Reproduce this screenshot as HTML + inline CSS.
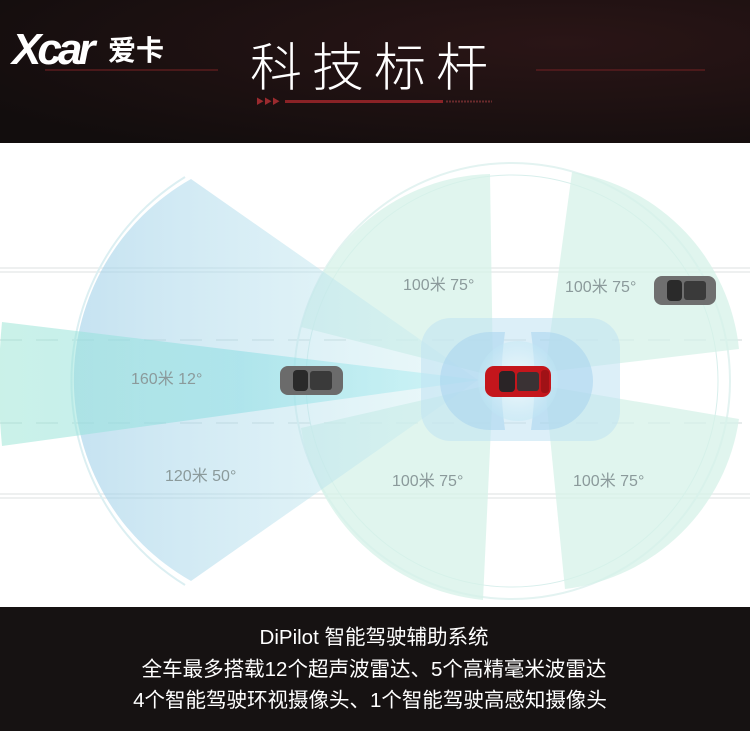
<!DOCTYPE html>
<html><head><meta charset="utf-8"><style>
html,body{margin:0;padding:0;width:750px;height:731px;overflow:hidden;background:#fff}
svg{display:block}
</style></head><body>
<svg width="750" height="731" viewBox="0 0 750 731" xmlns="http://www.w3.org/2000/svg" font-family="Liberation Sans, Noto Sans CJK SC, sans-serif">
<defs>
<radialGradient id="hdr" cx="0.75" cy="0.3" r="0.9">
<stop offset="0" stop-color="#2a1516"/><stop offset="1" stop-color="#120d0d"/></radialGradient>
<linearGradient id="big" x1="0" x2="1" y1="0" y2="0">
<stop offset="0" stop-color="#9fcfe8" stop-opacity="0.6"/><stop offset="1" stop-color="#c8eef0" stop-opacity="0.35"/></linearGradient>
<linearGradient id="nar" x1="0" x2="1">
<stop offset="0" stop-color="#9fe6d6" stop-opacity="0.55"/><stop offset="0.5" stop-color="#86dce2" stop-opacity="0.5"/><stop offset="1" stop-color="#c0f2f6" stop-opacity="0.6"/></linearGradient>
<radialGradient id="glow" cx="0.5" cy="0.5" r="0.5">
<stop offset="0" stop-color="#ffffff"/><stop offset="1" stop-color="#bfe6f4" stop-opacity="0.6"/></radialGradient>
</defs>
<rect x="0" y="0" width="750" height="143" fill="url(#hdr)"/>
<!-- logo -->
<text x="12" y="64" font-size="44" font-weight="bold" font-style="italic" fill="#fff" letter-spacing="-4">Xcar</text>
<text x="108" y="60" font-size="28" font-weight="bold" fill="#fff" font-family="Noto Sans CJK SC, sans-serif">爱卡</text>
<line x1="45" y1="70" x2="218" y2="70" stroke="#5a1c1e" stroke-width="1.5"/>
<line x1="536" y1="70" x2="705" y2="70" stroke="#5a1c1e" stroke-width="1.5"/>
<text x="374" y="86" font-size="52" fill="#fff" text-anchor="middle" font-weight="300" letter-spacing="10" font-family="Noto Sans CJK SC, sans-serif">科技标杆</text>
<text x="256" y="104" font-size="8" fill="#9a2a2e">▶▶▶</text>
<rect x="285" y="100" width="158" height="3" fill="#8a2226"/>
<line x1="446" y1="101.5" x2="492" y2="101.5" stroke="#6a2a2c" stroke-width="2" stroke-dasharray="2 1"/>

<!-- diagram -->
<rect x="0" y="143" width="750" height="465" fill="#fff"/>
<line x1="0" y1="268" x2="750" y2="268" stroke="#e8ecec" stroke-width="1.5"/>
<line x1="0" y1="272" x2="750" y2="272" stroke="#e8ecec" stroke-width="1.5"/>
<line x1="0" y1="494" x2="750" y2="494" stroke="#e8ecec" stroke-width="1.5"/>
<line x1="0" y1="498" x2="750" y2="498" stroke="#e8ecec" stroke-width="1.5"/>
<line x1="0" y1="340" x2="750" y2="340" stroke="#dfe5e5" stroke-width="1.5" stroke-dasharray="22 14"/>
<line x1="0" y1="423" x2="750" y2="423" stroke="#dfe5e5" stroke-width="1.5" stroke-dasharray="22 14"/>

<circle cx="512" cy="381" r="206" fill="none" stroke="#d8efec" stroke-width="1"/>
<circle cx="512" cy="381" r="218" fill="none" stroke="#e3f3f1" stroke-width="2"/>
<path d="M185,177 A240,240 0 0 0 185,585" fill="none" stroke="#dceff2" stroke-width="2"/>

<!-- 100m wedges -->
<path d="M493,376 L490,174 A200,200 0 0 0 301,327 Z" fill="#d6f1e8" opacity="0.75"/>
<path d="M493,384 L301,428 A205,205 0 0 0 483,600 Z" fill="#d6f1e8" opacity="0.75"/>
<path d="M545,372 L572,172 A200,200 0 0 1 739,349 Z" fill="#d6f1e8" opacity="0.75"/>
<path d="M545,386 L739,419 A200,200 0 0 1 565,589 Z" fill="#d6f1e8" opacity="0.75"/>
<!-- 120m 50 -->
<path d="M478,380 L191,179 A231,231 0 0 0 191,581 Z" fill="url(#big)"/>
<!-- 160m 12 -->
<path d="M480,380 L2,322 Q-4,384 2,446 Z" fill="url(#nar)"/>

<!-- near-field -->
<rect x="421" y="318" width="199" height="123" rx="30" fill="#bfe2f2" opacity="0.55"/>
<path d="M505,332 L490,332 A50,49 0 0 0 490,430 L505,430 Q498,381 505,332 Z" fill="#a8d4ee" opacity="0.55"/>
<path d="M531,332 L545,332 A48,49 0 0 1 545,430 L531,430 Q538,381 531,332 Z" fill="#a8d4ee" opacity="0.55"/>
<ellipse cx="518" cy="381" rx="40" ry="40" fill="url(#glow)" opacity="0.7"/>

<!-- cars -->
<g transform="translate(485,366)">
<rect x="0" y="0" width="66" height="31" rx="9" fill="#c4161c"/>
<rect x="14" y="5" width="16" height="21" rx="4" fill="#2a2426"/>
<rect x="32" y="6" width="22" height="19" rx="3" fill="#3a3234"/>
<rect x="56" y="4" width="8" height="23" rx="3" fill="#a01216"/>
</g>
<g transform="translate(280,366)">
<rect x="0" y="0" width="63" height="29" rx="8" fill="#6b6b6b"/>
<rect x="13" y="4" width="15" height="21" rx="4" fill="#2a2a2a"/>
<rect x="30" y="5" width="22" height="19" rx="3" fill="#3a3a3a"/>
</g>
<g transform="translate(654,276)">
<rect x="0" y="0" width="62" height="29" rx="8" fill="#6f6f6f"/>
<rect x="13" y="4" width="15" height="21" rx="4" fill="#2a2a2a"/>
<rect x="30" y="5" width="22" height="19" rx="3" fill="#3a3a3a"/>
</g>

<g font-size="16" fill="#8b9a9b">
<text x="131" y="384">160米 12°</text>
<text x="165" y="481">120米 50°</text>
<text x="403" y="290">100米 75°</text>
<text x="565" y="292">100米 75°</text>
<text x="392" y="486">100米 75°</text>
<text x="573" y="486">100米 75°</text>
</g>

<!-- bottom -->
<rect x="0" y="607" width="750" height="124" fill="#161212"/>
<g fill="#fff" text-anchor="middle" font-size="20.5">
<text x="374" y="644">DiPilot  智能驾驶辅助系统</text>
<text x="374" y="676">全车最多搭载12个超声波雷达、5个高精毫米波雷达</text>
<text x="370" y="707">4个智能驾驶环视摄像头、1个智能驾驶高感知摄像头</text>
</g>
</svg>
</body></html>
